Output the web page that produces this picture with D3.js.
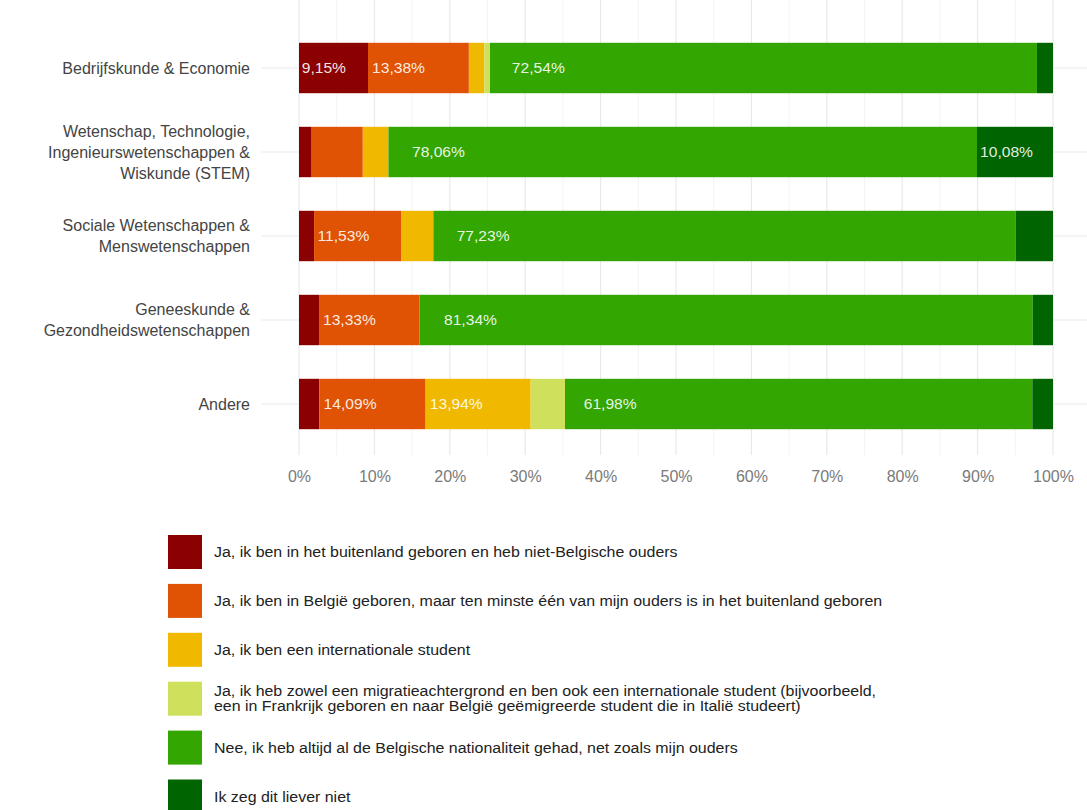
<!DOCTYPE html>
<html>
<head>
<meta charset="utf-8">
<script src="https://cdn.jsdelivr.net/npm/d3@7"></script>
<style>
  html, body { margin: 0; padding: 0; background: #fff; }
  svg { display: block; font-family: "Liberation Sans", Arial, Helvetica, sans-serif; }
</style>
</head>
<body>
<svg id="chart" width="1087" height="810"></svg>
<script>
// Study domains (top to bottom)
const categories = [
  ["Bedrijfskunde & Economie"],
  ["Wetenschap, Technologie,", "Ingenieurswetenschappen &", "Wiskunde (STEM)"],
  ["Sociale Wetenschappen &", "Menswetenschappen"],
  ["Geneeskunde &", "Gezondheidswetenschappen"],
  ["Andere"]
];

// Answer options, in stacking order
const answers = [
  ["Ja, ik ben in het buitenland geboren en heb niet-Belgische ouders"],
  ["Ja, ik ben in België geboren, maar ten minste één van mijn ouders is in het buitenland geboren"],
  ["Ja, ik ben een internationale student"],
  ["Ja, ik heb zowel een migratieachtergrond en ben ook een internationale student (bijvoorbeeld,",
   "een in Frankrijk geboren en naar België geëmigreerde student die in Italië studeert)"],
  ["Nee, ik heb altijd al de Belgische nationaliteit gehad, net zoals mijn ouders"],
  ["Ik zeg dit liever niet"]
];

const colors = ["#8b0000", "#e05304", "#f0b900", "#cfe05c", "#33a602", "#006400"];

// Share (%) per answer option, one array per domain
const bedrijfskunde = [9.15, 13.38, 2.04, 0.76, 72.54, 2.13];
const stem          = [1.68, 6.78, 3.40, 0.00, 78.06, 10.08];
const sociale       = [2.00, 11.53, 4.29, 0.00, 77.23, 4.95];
const geneeskunde   = [2.65, 13.33, 0.00, 0.00, 81.34, 2.68];
const andere        = [2.70, 14.09, 13.94, 4.55, 61.98, 2.74];
const seriesValues = [bedrijfskunde, stem, sociale, geneeskunde, andere];

const tickValues = [0, 10, 20, 30, 40, 50, 60, 70, 80, 90, 100];
const labelMin = 9; // only segments at least this large get a value label

const svg = d3.select("#chart");

const x = d3.scaleLinear().domain([0, 100]).range([299, 1053]);
const y = d3.scaleBand()
  .domain(d3.range(categories.length))
  .range([26, 446])
  .paddingInner(0.4)
  .paddingOuter(0.2);

const panelLeft = x(-5), panelRight = x(105);
const panelTop = 0, panelBottom = 455;

// grid: minor verticals, major verticals, horizontals at category centres
const grid = svg.append("g");
grid.selectAll("line.minor")
  .data(d3.range(5, 100, 10))
  .join("line")
  .attr("x1", d => x(d)).attr("x2", d => x(d))
  .attr("y1", panelTop).attr("y2", panelBottom)
  .attr("stroke", "#f3f3f3").attr("stroke-width", 1);
grid.selectAll("line.major")
  .data(tickValues)
  .join("line")
  .attr("x1", d => x(d)).attr("x2", d => x(d))
  .attr("y1", panelTop).attr("y2", panelBottom)
  .attr("stroke", "#e9e9e9").attr("stroke-width", 1.2);
grid.selectAll("line.h")
  .data(d3.range(categories.length))
  .join("line")
  .attr("x1", panelLeft).attr("x2", panelRight)
  .attr("y1", d => y(d) + y.bandwidth() / 2).attr("y2", d => y(d) + y.bandwidth() / 2)
  .attr("stroke", "#e9e9e9").attr("stroke-width", 1.2);

// stacked segments
const rows = seriesValues.map((vals, i) => {
  let acc = 0;
  return vals.map((v, k) => {
    const s = { row: i, k, v, x0: acc, x1: acc + v };
    acc += v;
    return s;
  });
});

const rowG = svg.append("g").selectAll("g")
  .data(rows)
  .join("g");

rowG.selectAll("rect")
  .data(d => d.filter(s => s.v > 0))
  .join("rect")
  .attr("x", s => x(s.x0))
  .attr("width", s => x(s.x1) - x(s.x0))
  .attr("y", s => y(s.row))
  .attr("height", y.bandwidth())
  .attr("fill", s => colors[s.k]);

// value labels, slightly widened type
const labelStretch = 1.1;
const fmt = v => v.toFixed(2).replace(".", ",") + "%";
rowG.selectAll("text")
  .data(d => d.filter(s => s.v >= labelMin))
  .join("text")
  .attr("transform", s => {
    const lx = x(s.x0) + 0.04 * (x(s.x1) - x(s.x0));
    const ly = y(s.row) + y.bandwidth() / 2;
    return `translate(${lx},${ly}) scale(${labelStretch},1)`;
  })
  .attr("dy", "0.36em")
  .attr("font-size", 14.2)
  .attr("fill", "#fff")
  .attr("fill-opacity", 0.9)
  .text(s => fmt(s.v));

// x axis
const xAxis = d3.axisBottom(x)
  .tickValues(tickValues)
  .tickSize(0)
  .tickPadding(0)
  .tickFormat(d => d + "%");
const ax = svg.append("g")
  .attr("transform", `translate(0, ${panelBottom})`)
  .call(xAxis);
ax.select(".domain").remove();
ax.selectAll("text")
  .attr("y", 21)
  .attr("dy", "0.36em")
  .attr("font-family", "Liberation Sans, Arial, sans-serif")
  .attr("font-size", 16)
  .attr("fill", "#7a7a7a");

// category labels
const lineH = 21;
const catG = svg.append("g");
catG.selectAll("text")
  .data(categories)
  .join("text")
  .attr("text-anchor", "end")
  .attr("font-size", 16)
  .attr("fill", "#444")
  .each(function (lines, i) {
    const cy = y(i) + y.bandwidth() / 2;
    const t = d3.select(this);
    lines.forEach((ln, j) => {
      t.append("tspan")
        .attr("x", 250)
        .attr("y", cy + (j - (lines.length - 1) / 2) * lineH)
        .attr("dy", "0.36em")
        .text(ln);
    });
  });

// legend
const legendStretch = 1.1;
const leg = svg.append("g").selectAll("g")
  .data(answers)
  .join("g")
  .attr("transform", (d, i) => `translate(168, ${535 + i * 48.9})`);
leg.append("rect")
  .attr("width", 34).attr("height", 34)
  .attr("fill", (d, i) => colors[i]);
leg.append("text")
  .attr("transform", `translate(46,0) scale(${legendStretch},1)`)
  .attr("font-size", 14.5)
  .attr("fill", "#222")
  .each(function (lines) {
    const t = d3.select(this);
    lines.forEach((ln, j) => {
      t.append("tspan")
        .attr("x", 0)
        .attr("y", 17 + (j - (lines.length - 1) / 2) * 15)
        .attr("dy", "0.36em")
        .text(ln);
    });
  });
</script>
</body>
</html>
